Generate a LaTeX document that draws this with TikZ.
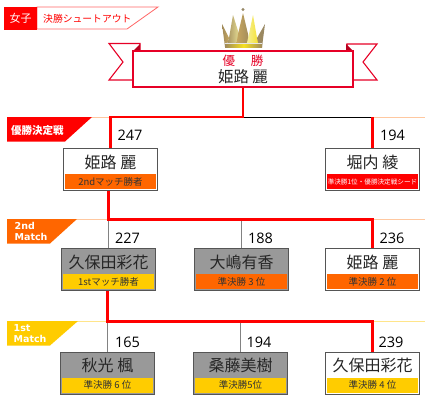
\documentclass[tikz,border=0pt]{standalone}
\usepackage{fontspec}
\setmainfont{Noto Sans CJK JP}
\newfontfamily\numfont{Open Sans}
\newfontfamily\tabfont{DejaVu Sans}[BoldFont={DejaVu Sans Bold}]
\definecolor{rd}{HTML}{FF0000}
\definecolor{crim}{HTML}{E60026}
\definecolor{org}{HTML}{FF6600}
\definecolor{yel}{HTML}{FFCC00}
\definecolor{gry}{HTML}{999999}
\definecolor{lorg}{HTML}{FFC8A0}
\definecolor{lyel}{HTML}{FFE58A}
\definecolor{edge}{HTML}{555555}
\definecolor{cb}{HTML}{A08A5A}
\definecolor{cl}{HTML}{C8A860}
\definecolor{cy}{HTML}{F5E020}
\definecolor{cp}{HTML}{F5EFA0}
\usetikzlibrary{calc}
\tikzset{
  pbox/.style={draw=edge,line width=1pt,minimum width=94pt,minimum height=42pt,inner sep=0pt,anchor=north west},
  pname/.style={inner sep=0pt,font=\fontsize{16}{17}\selectfont,text=black!85},
  pstrip/.style={inner sep=0pt,minimum width=91pt,minimum height=15pt,font=\fontsize{9.5}{10}\selectfont},
  score/.style={inner sep=0pt,font=\numfont\fontsize{14.5}{15}\selectfont,text=black},
  wire/.style={red,line width=2.2pt},
  lose/.style={gry!85!black,line width=1.4pt},
  tabtxt/.style={inner sep=0pt,align=left,anchor=west,text=white,font=\tabfont\bfseries\fontsize{9.5}{10.5}\selectfont},
}
\newcommand{\cand}[8]{%
  \node[pbox,fill=#4] (#1) at (#2,#3) {};
  \node[pname] (#1n) at ($(#1.north)+(0,14)$) {#5};
  \node[pstrip,fill=#6,text=#8] (#1s) at ($(#1.south)+(0,-9.5)$) {#7};
}
\begin{document}
\begin{tikzpicture}[x=1pt,y=-1pt]
\useasboundingbox (0,0) rectangle (430,400);
% title tag
\draw[rd!60,fill=white,line width=.8pt] (37,7) -- (158,7) -- (127,29) -- (37,29) -- cycle;
\node[fill=rd,minimum width=33pt,minimum height=23pt,inner sep=0pt,text=white,font=\fontsize{11}{12}\selectfont] (girl) at (20.5,18.5) {女子};
\node[inner sep=0pt,text=rd,font=\fontsize{9.8}{11}\selectfont,anchor=west] (ttl) at (43,19) {決勝シュートアウト};
% crown
\shade[left color=cb,right color=cl] (222,24) -- (229,38) -- (226,47) -- (225,47) -- cycle;
\shade[left color=cb,right color=cp] (233,15) -- (239,34) -- (242,47) -- (226,47) -- (229,38) -- cycle;
\shade[left color=cl,right color=cb] (243,13) -- (248,34) -- (250,47) -- (236,47) -- (238,34) -- cycle;
\shade[left color=cp,right color=cy] (253,15) -- (257,38) -- (260,47) -- (246,47) -- (249,34) -- cycle;
\shade[left color=cb,right color=cb!70!gray] (257,38) -- (265,24) -- (262,47) -- (259,47) -- cycle;
\fill[cb!70!gray] (243,9.5) circle (1.6);
\shade[left color=cb,right color=cb,middle color=cy] (225,43) rectangle (262,47);
\draw[white!80!gray,line width=.6pt] (225,43) -- (262,43);
% ribbon
\draw[crim,line width=1.1pt,fill=white] (109,43.5) -- (140,43.5) -- (140,80) -- (109,80) -- (123,62) -- cycle;
\draw[crim,line width=1.1pt,fill=white] (377,44) -- (347,44) -- (347,80) -- (377,80) -- (363,62) -- cycle;
\fill[crim!80!black] (133,51) -- (140,44) -- (140,51) -- cycle;
\fill[crim!80!black] (353,51) -- (346,44) -- (346,51) -- cycle;
\node[draw=crim,line width=1.5pt,fill=white,minimum width=220pt,minimum height=36pt,inner sep=0pt] (win) at (243,69) {};
\node[inner sep=0pt,text=crim,font=\fontsize{12.5}{13}\selectfont] (winl) at (243,61) {優\hspace{1.25em}勝};
\node[inner sep=0pt,text=black!85,font=\fontsize{15.5}{16}\selectfont] (winn) at (243,77) {姫路 麗};
% round rules
\coordinate (r1l) at (7,117); \coordinate (r1r) at (425,117);
\coordinate (r2l) at (7,219.5); \coordinate (r2r) at (425,219.5);
\coordinate (r3l) at (7,321.5); \coordinate (r3r) at (425,321.5);
\draw[lorg,line width=1pt] (r1l) -- (r1r);
\draw[lorg,line width=1pt] (r2l) -- (r2r);
\draw[lyel,line width=1pt] (r3l) -- (r3r);
% tabs
\fill[rd] (7,117) -- (92,117) -- (65,141.5) -- (7,141.5) -- cycle;
\fill[org] (7,219) -- (77,219) -- (50,243.5) -- (7,243.5) -- cycle;
\fill[yel] (7,321) -- (78,321) -- (50,345.5) -- (7,345.5) -- cycle;
\node[tabtxt,font=\fontsize{10.5}{11}\selectfont\bfseries] (t1) at (11,131) {優勝決定戦};
\node[tabtxt] (t2) at (14.5,231.5) {2nd\\Match};
\node[tabtxt] (t3) at (13.5,333.5) {1st\\Match};
% boxes
\cand{fa}{63}{148}{white}{姫路 麗}{org}{2ndマッチ勝者}{black!80}
\cand{fb}{325}{148}{white}{堀内 綾}{rd}{\fontsize{6.6}{7}\selectfont 準決勝1位・優勝決定戦シード}{white}
\cand{sa}{61}{248}{gry}{久保田彩花}{yel}{1stマッチ勝者}{black!80}
\cand{sb}{194}{248}{gry}{大嶋有香}{org}{準決勝 3 位}{black!80}
\cand{sc}{325}{248}{white}{姫路 麗}{org}{準決勝 2 位}{black!80}
\cand{ta}{60}{351.5}{gry}{秋光 楓}{yel}{準決勝 6 位}{black!80}
\cand{tb}{193}{351.5}{gry}{桑藤美樹}{yel}{準決勝5位}{black!80}
\cand{tc}{325}{351.5}{white}{久保田彩花}{yel}{準決勝 4 位}{black!80}
% scores
\node[score] (n1) at (130,135) {247};
\node[score] (n2) at (392.5,135) {194};
\node[score] (n3) at (127.5,238) {227};
\node[score] (n4) at (260.5,238) {188};
\node[score] (n5) at (392,238) {236};
\node[score] (n6) at (127.5,342) {165};
\node[score] (n7) at (259,342) {194};
\node[score] (n8) at (391,342) {239};
% final connectors
\draw[black,line width=1pt] (win.south |- r1l) -- (fb.north |- r1l);
\draw[wire,line join=miter] (win.south) -- (win.south |- r1l) -- (fa.north |- r1l) -- (fa.north);
\draw[wire] (fb.north |- r1l) -- (fb.north);
% 2nd match connectors
\draw[lose] (sa.north |- r2l) -- (sa.north);
\draw[lose] (sb.north |- r2l) -- (sb.north);
\draw[wire] (sa.north |- fa.south) -- (sa.north |- r2l) -- (sc.north |- r2l) -- (sc.north);
% 1st match connectors
\draw[lose] (ta.north |- r3l) -- (ta.north);
\draw[lose] (tb.north |- r3l) -- (tb.north);
\draw[wire] (ta.north |- sa.south) -- (ta.north |- r3l) -- (tc.north |- r3l) -- (tc.north);
\end{tikzpicture}
\end{document}
